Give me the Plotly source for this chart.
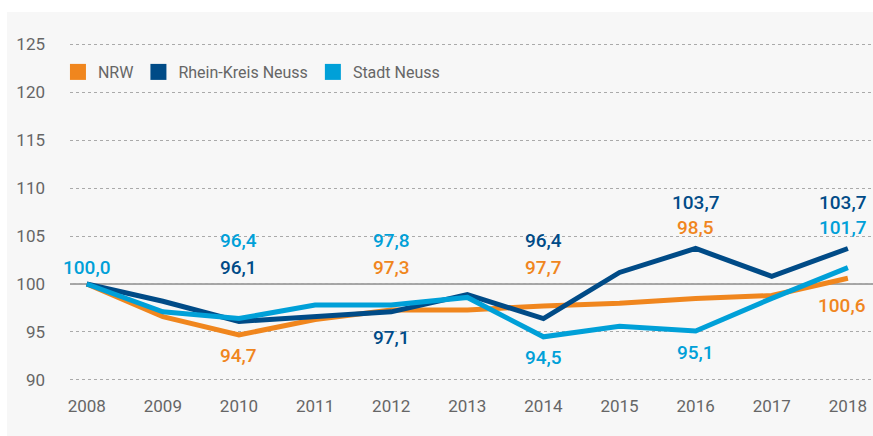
import plotly.graph_objects as go

years = [2008, 2009, 2010, 2011, 2012, 2013, 2014, 2015, 2016, 2017, 2018]
nrw = [100.0, 96.6, 94.7, 96.3, 97.3, 97.3, 97.7, 98.0, 98.5, 98.8, 100.6]
rkn = [100.0, 98.2, 96.1, 96.6, 97.1, 98.9, 96.4, 101.2, 103.7, 100.8, 103.7]
stn = [100.0, 97.1, 96.4, 97.8, 97.8, 98.6, 94.5, 95.6, 95.1, 98.5, 101.7]
series_names = ["NRW", "Rhein-Kreis Neuss", "Stadt Neuss"]
y_ticks = [90, 95, 100, 105, 110, 115, 120, 125]

# labelled points: (series index, year index, label y-position in axis units)
labels = [
    (2, 0, 101.7),
    (2, 2, 104.5), (1, 2, 101.7), (0, 2, 92.6),
    (2, 4, 104.5), (0, 4, 101.7), (1, 4, 94.4),
    (1, 6, 104.5), (0, 6, 101.7), (2, 6, 92.3),
    (1, 8, 108.5), (0, 8, 105.9), (2, 8, 92.9),
    (1, 10, 108.5), (2, 10, 105.9), (0, 10, 97.8),
]

colors = ["#f0861e", "#004b87", "#00a0d8"]
data = [nrw, rkn, stn]
FONT = "Roboto"

fig = go.Figure()
for name, vals, col in zip(series_names, data, colors):
    fig.add_trace(go.Scatter(x=years, y=vals, mode="lines", name=name,
                             line=dict(color=col, width=5), showlegend=False))
for name, col in zip(series_names, colors):
    fig.add_trace(go.Scatter(x=[None], y=[None], mode="markers", name=name,
                             marker=dict(symbol="square", size=16, color=col)))

for si, yi, ly in labels:
    v = data[si][yi]
    txt = f"{v:.1f}".replace(".", ",")
    xanchor = "right" if yi == len(years) - 1 else "center"
    xpos = years[yi] + (0.27 if yi == len(years) - 1 else 0)
    fig.add_annotation(x=xpos, y=ly, text=txt, showarrow=False, xanchor=xanchor,
                       yanchor="middle",
                       font=dict(family=FONT, size=19, color=colors[si], weight=500))

PH = 364
# background panel
fig.add_shape(type="rect", xref="paper", yref="paper",
              x0=(7 - 70) / 803, x1=1.0, y0=-42 / PH, y1=1 + 18 / PH,
              fillcolor="#f7f7f7", line=dict(width=0), layer="below")
# 100 reference line
fig.add_shape(type="line", xref="paper", yref="y", x0=0, x1=1, y0=100, y1=100,
              line=dict(color="#555555", width=1.2), layer="below")

fig.update_layout(
    width=873, height=436,
    margin=dict(l=70, r=0, t=30, b=42),
    paper_bgcolor="white", plot_bgcolor="rgba(0,0,0,0)",
    font=dict(family=FONT, color="#666666"),
    legend=dict(orientation="h", x=-0.015, y=1 - 42 / PH, yanchor="middle", xanchor="left",
                font=dict(family=FONT, size=16, color="#666666"),
                bgcolor="rgba(0,0,0,0)", itemwidth=30, tracegroupgap=0),
    xaxis=dict(range=[2007.78, 2018.33], tickmode="array", tickvals=years,
               ticktext=[str(y) for y in years], showgrid=False, zeroline=False,
               showline=False, tickfont=dict(size=17, color="#666666"),
               ticks="", ticklabelstandoff=0),
    yaxis=dict(range=[88.54, 126.46], tickmode="array", tickvals=y_ticks,
               showgrid=True, gridcolor="#aaaaaa", griddash="dot", gridwidth=1,
               zeroline=False, showline=False, ticks="",
               tickfont=dict(size=17, color="#666666"), ticklabelstandoff=24),
)

fig.write_html("out.html", config={"displayModeBar": False},
               post_script="document.body.style.margin='0';document.body.style.overflow='hidden';")
